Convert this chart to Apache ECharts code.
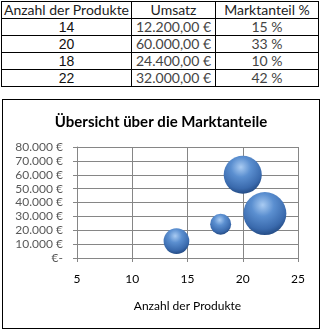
<!DOCTYPE html>
<html><head><meta charset="utf-8">
<script src="https://cdn.jsdelivr.net/npm/echarts@6/dist/echarts.min.js"></script>
<style>
html,body{margin:0;padding:0;background:#fff;width:322px;height:331px;overflow:hidden;}
#tbl{position:absolute;left:1px;top:1px;border-collapse:collapse;font-family:Lato,"Liberation Sans",sans-serif;font-size:14px;color:#222;}
#tbl td{border:1px solid #000;padding:0;height:16px;line-height:16px;text-align:center;}
#tbl td.n{font-family:"Liberation Sans",Arial,sans-serif;font-size:14px;color:#111;}
#tbl td.g{color:#444;}
#box{position:absolute;left:2px;top:99px;width:316px;height:228px;border:1px solid #000;}
#chart{position:absolute;left:0;top:0;width:322px;height:331px;}
</style></head>
<body>
<table id="tbl"></table>
<div id="box"></div>
<div id="chart"></div>
<script>
const headers = ["Anzahl der Produkte", "Umsatz", "Marktanteil %"];
const products = [14, 20, 18, 22];
const revenue = [12200, 60000, 24400, 32000];
const share = [15, 33, 10, 42];
const xTicks = [5, 10, 15, 20, 25];
const yTicks = [0, 10000, 20000, 30000, 40000, 50000, 60000, 70000, 80000];

function fmtThousands(v){ return String(v).replace(/\B(?=(\d{3})+(?!\d))/g, "."); }

// table
const tbl = document.getElementById('tbl');
const widths = [130, 84, 103];
let html = '<tr>' + headers.map((h,i)=>'<td style="width:'+(widths[i]-1)+'px">'+h+'</td>').join('') + '</tr>';
for (let i=0;i<products.length;i++){
  html += '<tr><td class="n">'+products[i]+'</td><td class="g">'+fmtThousands(revenue[i])+',00 €</td><td class="g">'+share[i]+' %</td></tr>';
}
tbl.innerHTML = html;

const chart = echarts.init(document.getElementById('chart'), null, {renderer:'canvas'});
const sphere = {
  type:'radial', x:0.45, y:0.3, r:0.75,
  colorStops:[{offset:0,color:'#a9cbf2'},{offset:0.35,color:'#5b8fd0'},{offset:0.75,color:'#3a6aad'},{offset:1,color:'#1d4278'}]
};
chart.setOption({
  animation:false,
  title:{text:'Übersicht über die Marktanteile', left:'center', top:110,
    textStyle:{fontFamily:'Lato', fontWeight:'bold', fontSize:15, color:'#000'}},
  grid:{left:77, right:24, top:147, bottom:73},
  xAxis:{type:'value', min:xTicks[0], max:xTicks[xTicks.length-1], interval:5,
    name:'Anzahl der Produkte', nameLocation:'middle', nameGap:42,
    nameTextStyle:{fontFamily:'Lato', fontSize:12, color:'#000'},
    axisLine:{show:true, lineStyle:{color:'#868686'}},
    axisTick:{show:true, length:4, lineStyle:{color:'#868686'}},
    axisLabel:{fontFamily:'Lato', fontSize:12, color:'#000', margin:15},
    splitLine:{show:true, lineStyle:{color:'#868686'}}},
  yAxis:{type:'value', min:yTicks[0], max:yTicks[yTicks.length-1], interval:10000,
    axisLine:{show:true, lineStyle:{color:'#868686'}},
    axisTick:{show:true, length:4, lineStyle:{color:'#868686'}},
    axisLabel:{fontFamily:'Lato', fontSize:12, color:'#595959', margin:14,
      formatter:v=> v===0 ? '€-' : fmtThousands(v)+' €'},
    splitLine:{show:true, lineStyle:{color:'#868686'}}},
  series:[{type:'scatter',
    data: products.map((p,i)=>[p, revenue[i], share[i]]),
    symbolSize: d => 6.63*Math.sqrt(d[2]),
    itemStyle:{color:sphere, opacity:1}
  }]
});
</script>
</body></html>
